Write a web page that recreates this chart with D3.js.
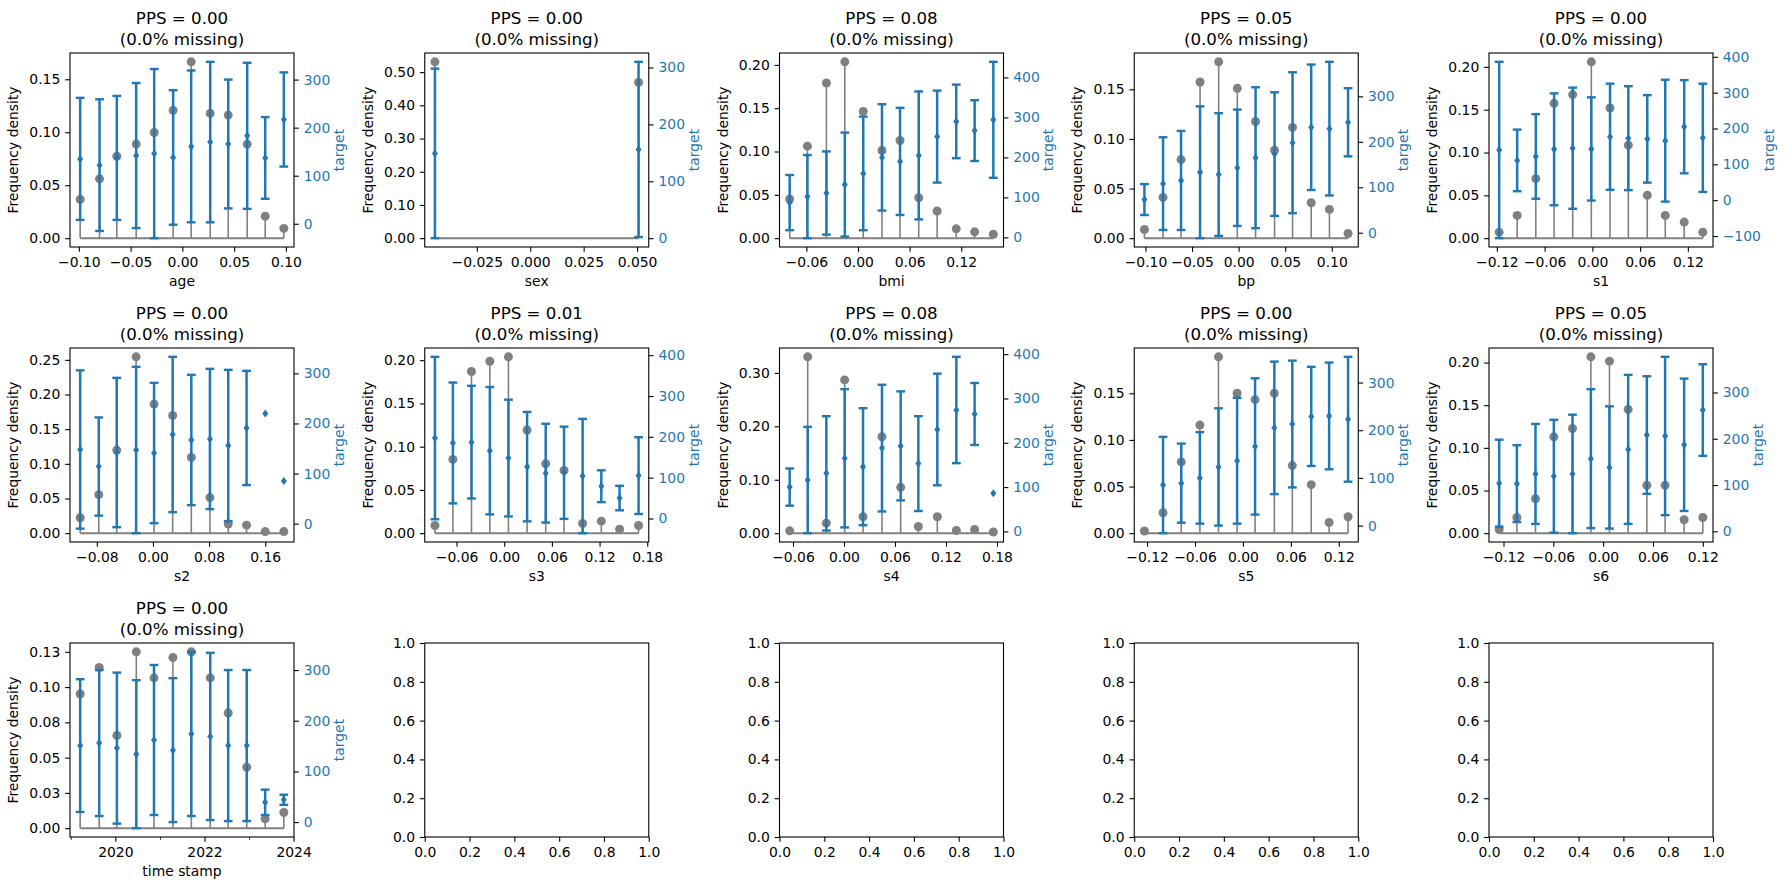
<!DOCTYPE html>
<html>
<head>
<meta charset="utf-8">
<title>PPS per feature</title>
<script src="https://cdn.jsdelivr.net/npm/d3@7"></script>
<style>
  body { margin: 0; background: #fff; }
  text { font-family: "DejaVu Sans", sans-serif; }
</style>
</head>
<body>
<script>

// features in panel order and their PPS scores
var features = ["age", "sex", "bmi", "bp", "s1", "s2", "s3", "s4", "s5", "s6", "time stamp"];
var ppsScores = ["0.00", "0.00", "0.08", "0.05", "0.00", "0.00", "0.01", "0.08", "0.00", "0.05", "0.00"];

// bin centres, frequency density, mean and std of target per bin (null = nothing drawn)
var ageX = [-0.0987, -0.0800, -0.0633, -0.0446, -0.0272, -0.0089, 0.0085, 0.0269, 0.0443, 0.0626, 0.0800, 0.0980];
var ageDensity = [0.0366, 0.0560, 0.0774, 0.0888, 0.0998, 0.1207, 0.1665, 0.1178, 0.1162, 0.0888, 0.0208, 0.0092];
var ageMean = [135, 122, 137, 142, 146, 138, 161, 170, 166, 183, 137, 217];
var ageSd = [127, 137, 129, 151, 176, 140, 158, 167, 134, 152, 85, 98];

var sexX = [-0.0446, 0.0507];
var sexDensity = [0.531, 0.469];
var sexMean = [149, 156];
var sexSd = [149, 154];

var bmiX = [-0.0794, -0.0588, -0.0367, -0.0153, 0.0061, 0.0279, 0.0489, 0.0706, 0.0920, 0.1142, 0.1356, 0.1573];
var bmiDensity = [0.0452, 0.1062, 0.1790, 0.2035, 0.1463, 0.1012, 0.1127, 0.0467, 0.0313, 0.0108, 0.0073, 0.0046];
var bmiMean = [87, 102, 111, 132, 160, 200, 190, 205, 252, 290, 267, 294];
var bmiSd = [69, 104, 104, 130, 142, 133, 134, 160, 115, 92, 76, 145];

var bpX = [-0.1011, -0.0811, -0.0618, -0.0414, -0.0214, -0.0014, 0.0182, 0.0386, 0.0579, 0.0779, 0.0975, 0.1175];
var bpDensity = [0.0088, 0.0411, 0.0792, 0.1574, 0.1777, 0.1510, 0.1176, 0.0887, 0.1116, 0.0357, 0.0290, 0.0047];
var bpMean = [73, 108, 115, 133, 128, 143, 165, 173, 198, 232, 229, 243];
var bpSd = [34, 102, 109, 145, 135, 128, 155, 136, 155, 138, 147, 75];

var s1X = [-0.1171, -0.0945, -0.0711, -0.0481, -0.0247, -0.0013, 0.0222, 0.0452, 0.0690, 0.0916, 0.1154, 0.1388];
var s1Density = [0.0070, 0.0266, 0.0695, 0.1574, 0.1676, 0.2059, 0.1520, 0.1086, 0.0500, 0.0266, 0.0188, 0.0070];
var s1Mean = [140, 111, 122, 142, 145, 143, 177, 173, 171, 166, 205, 174];
var s1Sd = [246, 86, 118, 156, 169, 144, 148, 145, 122, 170, 130, 151];

var s2X = [-0.1037, -0.0772, -0.0516, -0.0240, 0.0016, 0.0281, 0.0547, 0.0812, 0.1073, 0.1334, 0.1600, 0.1865];
var s2Density = [0.0222, 0.0556, 0.1199, 0.2544, 0.1862, 0.1697, 0.1093, 0.0513, 0.0131, 0.0116, 0.0023, 0.0023];
var s2Mean = [148, 114, 142, 147, 141, 178, 167, 169, 156, 191, 220, 85];
var s2Sd = [158, 98, 149, 166, 140, 155, 130, 140, 151, 114, null, null];

var s3X = [-0.0872, -0.0646, -0.0412, -0.0181, 0.0053, 0.0288, 0.0522, 0.0753, 0.0987, 0.1222, 0.1452, 0.1691];
var s3Density = [0.0089, 0.0853, 0.1869, 0.1988, 0.2039, 0.1193, 0.0803, 0.0726, 0.0112, 0.0139, 0.0046, 0.0089];
var s3Mean = [197, 185, 187, 166, 148, 127, 111, 112, 104, 79, 50, 105];
var s3Sd = [199, 148, 138, 156, 143, 134, 121, 113, 140, 39, 30, 94];

var s4X = [-0.0639, -0.0427, -0.0208, 0.0008, 0.0224, 0.0447, 0.0667, 0.0875, 0.1098, 0.1322, 0.1537, 0.1757];
var s4Density = [0.0044, 0.3300, 0.0188, 0.2868, 0.0307, 0.1804, 0.0858, 0.0125, 0.0307, 0.0050, 0.0069, 0.0023];
var s4Mean = [100, 116, 131, 165, 146, 188, 193, 153, 230, 274, 265, 86];
var s4Sd = [42, 120, 129, 156, 132, 143, 123, 107, 126, 120, 70, null];

var s5X = [-0.1233, -0.1000, -0.0772, -0.0539, -0.0306, -0.0073, 0.0152, 0.0393, 0.0618, 0.0855, 0.1079, 0.1316];
var s5Density = [0.0023, 0.0219, 0.0764, 0.1159, 0.1891, 0.1500, 0.1432, 0.1500, 0.0725, 0.0520, 0.0115, 0.0176];
var s5Mean = [null, 85, 89, 100, 123, 136, 166, 205, 213, 229, 230, 223];
var s5Sd = [null, 101, 83, 96, 123, 132, 143, 139, 133, 104, 112, 131];

var s6X = [-0.1252, -0.1039, -0.0815, -0.0594, -0.0369, -0.0148, 0.0076, 0.0301, 0.0526, 0.0746, 0.0975, 0.1200];
var s6Density = [0.0043, 0.0184, 0.0404, 0.1129, 0.1227, 0.2067, 0.2016, 0.1451, 0.0561, 0.0561, 0.0157, 0.0184];
var s6Mean = [104, 103, 124, 119, 124, 157, 138, 177, 208, 206, 187, 262];
var s6Sd = [94, 83, 108, 122, 128, 150, 132, 161, 127, 171, 143, 99];

var timeX = ["2019-03-19", "2019-08-22", "2020-01-14", "2020-06-21", "2020-11-13", "2021-04-17",
             "2021-09-15", "2022-02-17", "2022-07-14", "2022-12-13", "2023-05-13", "2023-10-13"];
var timeDensity = [0.0951, 0.1139, 0.0657, 0.1250, 0.1065, 0.1210, 0.1250, 0.1065, 0.0816, 0.0432, 0.0066, 0.0111];
var timeMean = [151, 156, 146, 134, 162, 142, 174, 169, 151, 151, 39, 44];
var timeSd = [131, 144, 149, 146, 148, 142, 162, 165, 149, 149, 25, 10];

// tick values per panel (feature order)
var xTickValues = [
  [-0.10, -0.05, 0.00, 0.05, 0.10],
  [-0.025, 0.000, 0.025, 0.050],
  [-0.06, 0.00, 0.06, 0.12],
  [-0.10, -0.05, 0.00, 0.05, 0.10],
  [-0.12, -0.06, 0.00, 0.06, 0.12],
  [-0.08, 0.00, 0.08, 0.16],
  [-0.06, 0.00, 0.06, 0.12, 0.18],
  [-0.06, 0.00, 0.06, 0.12, 0.18],
  [-0.12, -0.06, 0.00, 0.06, 0.12],
  [-0.12, -0.06, 0.00, 0.06, 0.12],
  ["2020", "2022", "2024"]
];
var xTickFormats = [".2f", ".3f", ".2f", ".2f", ".2f", ".2f", ".2f", ".2f", ".2f", ".2f", "%Y"];
var timeMinorYears = ["2019", "2021", "2023"];

var leftTickValues = [
  [0, 0.05, 0.10, 0.15],
  [0, 0.10, 0.20, 0.30, 0.40, 0.50],
  [0, 0.05, 0.10, 0.15, 0.20],
  [0, 0.05, 0.10, 0.15],
  [0, 0.05, 0.10, 0.15, 0.20],
  [0, 0.05, 0.10, 0.15, 0.20, 0.25],
  [0, 0.05, 0.10, 0.15, 0.20],
  [0, 0.10, 0.20, 0.30],
  [0, 0.05, 0.10, 0.15],
  [0, 0.05, 0.10, 0.15, 0.20],
  [0, 0.025, 0.05, 0.075, 0.10, 0.125]
];
var timeLeftLabels = ["0.00", "0.03", "0.05", "0.08", "0.10", "0.13"];

var rightTickValues = [
  [0, 100, 200, 300],
  [0, 100, 200, 300],
  [0, 100, 200, 300, 400],
  [0, 100, 200, 300],
  [-100, 0, 100, 200, 300, 400],
  [0, 100, 200, 300],
  [0, 100, 200, 300, 400],
  [0, 100, 200, 300, 400],
  [0, 100, 200, 300],
  [0, 100, 200, 300],
  [0, 100, 200, 300]
];

var emptyTicks = [0, 0.2, 0.4, 0.6, 0.8, 1.0];

// ---------------------------------------------------------------

var W = 1789, H = 890;
var pw = 224, ph = 194;
var rowTop = [53, 348, 643];
var grey = "#808080", blue = "#1f77b4";
var fs = 13.9;
var tickLen = 4.86, tickPad = 4.86;
var parseDate = d3.timeParse("%Y-%m-%d");
var parseYear = d3.timeParse("%Y");

function colLeft(c) { return 70 + c * 354.75; }
function padded(lo, hi) { var r = hi - lo; return [lo - 0.05 * r, hi + 0.05 * r]; }

function styleAxis(g, color) {
  g.select(".domain").remove();
  g.selectAll(".tick line").attr("stroke", "#000").attr("stroke-width", 1.1);
  g.selectAll(".tick text")
    .attr("font-size", fs)
    .attr("font-family", "DejaVu Sans")
    .attr("fill", color || "#000");
}

function maxTextWidth(g) {
  return d3.max(g.selectAll(".tick text").nodes(), function (n) { return n.getComputedTextLength(); });
}

var svg = d3.select("body").append("svg")
  .attr("width", W)
  .attr("height", H);
svg.append("rect").attr("width", W).attr("height", H).attr("fill", "#fff");

var xs = [ageX, sexX, bmiX, bpX, s1X, s2X, s3X, s4X, s5X, s6X, timeX];
var dens = [ageDensity, sexDensity, bmiDensity, bpDensity, s1Density, s2Density, s3Density, s4Density, s5Density, s6Density, timeDensity];
var means = [ageMean, sexMean, bmiMean, bpMean, s1Mean, s2Mean, s3Mean, s4Mean, s5Mean, s6Mean, timeMean];
var sds = [ageSd, sexSd, bmiSd, bpSd, s1Sd, s2Sd, s3Sd, s4Sd, s5Sd, s6Sd, timeSd];

features.forEach(function (name, i) {
  var left = colLeft(i % 5), top = rowTop[Math.floor(i / 5)];
  var g = svg.append("g").attr("transform", "translate(" + left + "," + top + ")");
  var isTime = name === "time stamp";

  var xv = isTime ? xs[i].map(parseDate) : xs[i];
  var xe = d3.extent(xv, function (d) { return +d; });
  var xd = padded(xe[0], xe[1]);
  var x = isTime
    ? d3.scaleTime().domain([new Date(xd[0]), new Date(xd[1])]).range([0, pw])
    : d3.scaleLinear().domain(xd).range([0, pw]);

  var yL = d3.scaleLinear().domain(padded(0, d3.max(dens[i]))).range([ph, 0]);

  var lo = Infinity, hi = -Infinity;
  means[i].forEach(function (m, k) {
    if (m == null) return;
    var s = sds[i][k] || 0;
    lo = Math.min(lo, m - s);
    hi = Math.max(hi, m + s);
  });
  var yR = d3.scaleLinear().domain(padded(lo, hi)).range([ph, 0]);

  // stems
  g.selectAll(".stem").data(dens[i]).enter().append("line")
    .attr("x1", function (d, k) { return x(xv[k]); })
    .attr("x2", function (d, k) { return x(xv[k]); })
    .attr("y1", yL(0))
    .attr("y2", function (d) { return yL(d); })
    .attr("stroke", grey)
    .attr("stroke-width", 1.6);

  g.append("line")
    .attr("x1", x(xv[0])).attr("x2", x(xv[xv.length - 1]))
    .attr("y1", yL(0)).attr("y2", yL(0))
    .attr("stroke", grey).attr("stroke-width", 2);

  g.selectAll(".dot").data(dens[i]).enter().append("circle")
    .attr("cx", function (d, k) { return x(xv[k]); })
    .attr("cy", function (d) { return yL(d); })
    .attr("r", 4.5)
    .attr("fill", grey);

  // error bars on the twin axis
  var bars = means[i].map(function (m, k) { return { x: xv[k], m: m, s: sds[i][k] }; })
    .filter(function (d) { return d.m != null; });

  var withSd = bars.filter(function (d) { return d.s != null; });
  g.selectAll(".bar").data(withSd).enter().append("line")
    .attr("x1", function (d) { return x(d.x); })
    .attr("x2", function (d) { return x(d.x); })
    .attr("y1", function (d) { return yR(d.m - d.s); })
    .attr("y2", function (d) { return yR(d.m + d.s); })
    .attr("stroke", blue)
    .attr("stroke-width", 2.5);

  [-1, 1].forEach(function (sign) {
    g.selectAll(".cap" + sign).data(withSd).enter().append("line")
      .attr("x1", function (d) { return x(d.x) - 4.4; })
      .attr("x2", function (d) { return x(d.x) + 4.4; })
      .attr("y1", function (d) { return yR(d.m + sign * d.s); })
      .attr("y2", function (d) { return yR(d.m + sign * d.s); })
      .attr("stroke", blue)
      .attr("stroke-width", 2.4);
  });

  g.selectAll(".mean").data(bars).enter().append("path")
    .attr("transform", function (d) { return "translate(" + x(d.x) + "," + yR(d.m) + ")"; })
    .attr("d", "M0,-4L3,0L0,4L-3,0Z")
    .attr("fill", blue);

  // axes
  var xAxis = d3.axisBottom(x).tickValues(isTime ? xTickValues[i].map(parseYear) : xTickValues[i])
    .tickSize(tickLen).tickPadding(tickPad)
    .tickFormat(isTime ? d3.timeFormat(xTickFormats[i]) : d3.format(xTickFormats[i]));
  var gx = g.append("g").attr("transform", "translate(0," + ph + ")").call(xAxis);
  styleAxis(gx);

  if (isTime) {
    var gm = g.append("g").attr("transform", "translate(0," + ph + ")")
      .call(d3.axisBottom(x).tickValues(timeMinorYears.map(parseYear)).tickSize(2.8).tickFormat(""));
    gm.select(".domain").remove();
    gm.selectAll(".tick line").attr("stroke", "#000").attr("stroke-width", 0.8);
  }

  var leftAxis = d3.axisLeft(yL).tickValues(leftTickValues[i]).tickSize(tickLen).tickPadding(tickPad)
    .tickFormat(isTime ? function (d, k) { return timeLeftLabels[k]; } : d3.format(".2f"));
  var gl = g.append("g").call(leftAxis);
  styleAxis(gl);

  var gr = g.append("g").attr("transform", "translate(" + pw + ",0)")
    .call(d3.axisRight(yR).tickValues(rightTickValues[i]).tickSize(tickLen).tickPadding(tickPad).tickFormat(d3.format("d")));
  styleAxis(gr, blue);

  g.append("rect").attr("width", pw).attr("height", ph)
    .attr("fill", "none").attr("stroke", "#000").attr("stroke-width", 1.1);

  // labels
  var wl = maxTextWidth(gl), wr = maxTextWidth(gr);
  g.append("text")
    .attr("transform", "translate(" + (-21 - wl) + "," + (ph / 2) + ") rotate(-90)")
    .attr("text-anchor", "middle")
    .attr("font-size", fs)
    .text("Frequency density");

  g.append("text")
    .attr("transform", "translate(" + (pw + 23.3 + wr) + "," + (ph / 2) + ") rotate(-90)")
    .attr("text-anchor", "middle")
    .attr("font-size", fs)
    .attr("fill", blue)
    .text("target");

  g.append("text")
    .attr("x", pw / 2).attr("y", ph + 39)
    .attr("text-anchor", "middle")
    .attr("font-size", fs)
    .text(name);

  g.append("text")
    .attr("x", pw / 2).attr("y", -29)
    .attr("text-anchor", "middle")
    .attr("font-size", 16.67)
    .text("PPS = " + ppsScores[i]);
  g.append("text")
    .attr("x", pw / 2).attr("y", -8.5)
    .attr("text-anchor", "middle")
    .attr("font-size", 16.67)
    .text("(0.0% missing)");
});

// four unused axes in the last row
[1, 2, 3, 4].forEach(function (c) {
  var g = svg.append("g").attr("transform", "translate(" + colLeft(c) + "," + rowTop[2] + ")");
  var x = d3.scaleLinear().domain([0, 1]).range([0, pw]);
  var y = d3.scaleLinear().domain([0, 1]).range([ph, 0]);
  var gx = g.append("g").attr("transform", "translate(0," + ph + ")")
    .call(d3.axisBottom(x).tickValues(emptyTicks).tickSize(tickLen).tickPadding(tickPad).tickFormat(d3.format(".1f")));
  styleAxis(gx);
  var gy = g.append("g")
    .call(d3.axisLeft(y).tickValues(emptyTicks).tickSize(tickLen).tickPadding(tickPad).tickFormat(d3.format(".1f")));
  styleAxis(gy);
  g.append("rect").attr("width", pw).attr("height", ph)
    .attr("fill", "none").attr("stroke", "#000").attr("stroke-width", 1.1);
});

</script>
</body>
</html>
